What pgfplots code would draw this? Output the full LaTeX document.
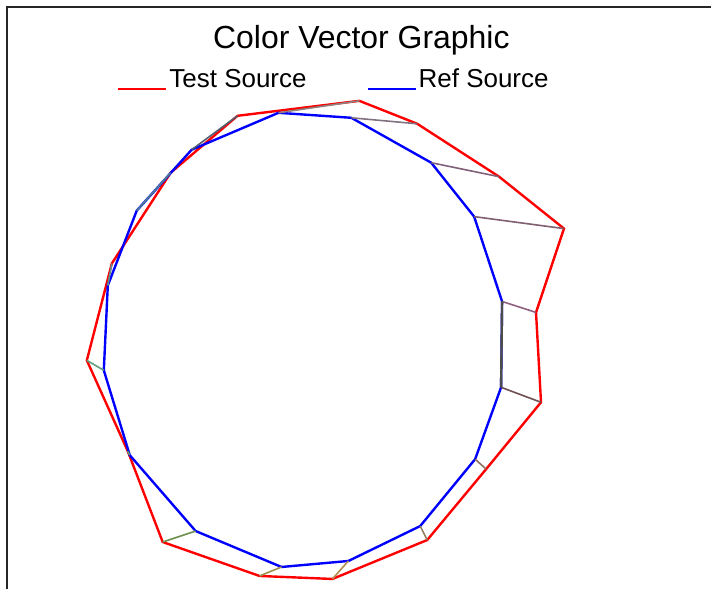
\documentclass[border=0pt]{standalone}
\usepackage{pgfplots}
\pgfplotsset{compat=1.18}
\usepackage{fontspec}
\setmainfont{Liberation Sans}
\definecolor{cA}{HTML}{908080}
\definecolor{cB}{HTML}{807080}
\definecolor{cC}{HTML}{806078}
\definecolor{cD}{HTML}{806070}
\definecolor{cE}{HTML}{906080}
\definecolor{cF}{HTML}{705050}
\definecolor{cG}{HTML}{907060}
\definecolor{cH}{HTML}{908060}
\definecolor{cI}{HTML}{B09050}
\definecolor{cJ}{HTML}{A09050}
\definecolor{cK}{HTML}{709050}
\definecolor{cL}{HTML}{60A060}
\definecolor{cM}{HTML}{60A080}
\definecolor{cN}{HTML}{609090}
\definecolor{cO}{HTML}{508090}
\definecolor{cP}{HTML}{506070}
\begin{document}
\begin{tikzpicture}
\begin{axis}[
  scale only axis, width=356pt, height=295pt,
  xmin=0, xmax=712, ymin=0, ymax=590, y dir=reverse,
  hide axis, clip=false,
  legend columns=2,
  legend style={at={(0.1643,0.8645)}, anchor=west, draw=none, fill=none,
    inner sep=0pt, font=\fontsize{13}{15}\selectfont,
    nodes={inner sep=1pt},
    /tikz/every even column/.append style={column sep=29pt}},
  legend image code/.code={\draw[#1,line width=1.2pt] (-1pt,-4.5pt) -- (23pt,-4.5pt);},
]
% frame
\draw[color=black!85, line width=1.3pt] (axis cs:7,590) -- (axis cs:7,7) -- (axis cs:712,7);
\path (axis cs:0,0) (axis cs:712,590);
% Test source (red)
\addplot[red, line width=1.2pt] coordinates {
(360,101) (418,124) (500,177) (565,229) (537,313) (542,403) (487,470) (428,541)
(333,580) (260,577) (163,543) (128,452) (87,361) (112,264) (171,173) (238,116) (360,101)};
\addlegendentry{Test Source}
% Ref source (blue)
\addplot[blue, line width=1.2pt] coordinates {
(279,113) (352,118) (432,163) (475,217) (503,302) (502,388) (476,460) (421,527)
(349,562) (282,568) (196,532) (130,456) (104,371) (108,286) (137,211) (192,150) (279,113)};
\addlegendentry{Ref Source}
% connectors
\addplot[cA, line width=0.8pt, forget plot] coordinates {(279,113) (360,101)};
\addplot[cB, line width=0.8pt, forget plot] coordinates {(352,118) (418,124)};
\addplot[cC, line width=0.8pt, forget plot] coordinates {(432,163) (500,177)};
\addplot[cD, line width=0.8pt, forget plot] coordinates {(475,217) (565,229)};
\addplot[cE, line width=0.8pt, forget plot] coordinates {(503,302) (537,313)};
\addplot[cF, line width=0.8pt, forget plot] coordinates {(502,388) (542,403)};
\addplot[cG, line width=0.8pt, forget plot] coordinates {(476,460) (487,470)};
\addplot[cH, line width=0.8pt, forget plot] coordinates {(421,527) (428,541)};
\addplot[cI, line width=0.8pt, forget plot] coordinates {(349,562) (333,580)};
\addplot[cJ, line width=0.8pt, forget plot] coordinates {(282,568) (260,577)};
\addplot[cK, line width=0.8pt, forget plot] coordinates {(196,532) (163,543)};
\addplot[cL, line width=0.8pt, forget plot] coordinates {(130,456) (128,452)};
\addplot[cM, line width=0.8pt, forget plot] coordinates {(104,371) (87,361)};
\addplot[cN, line width=0.8pt, forget plot] coordinates {(108,286) (112,264)};
\addplot[cO, line width=0.8pt, forget plot] coordinates {(137,211) (171,173)};
\addplot[cP, line width=0.8pt, forget plot] coordinates {(192,150) (238,116)};
\addplot[black!70, line width=1.2pt, forget plot] coordinates {(503,302) (502,388)};
\node[font=\fontsize{16}{19}\selectfont] at (axis cs:362,40) {Color Vector Graphic};
\end{axis}
\end{tikzpicture}
\end{document}
